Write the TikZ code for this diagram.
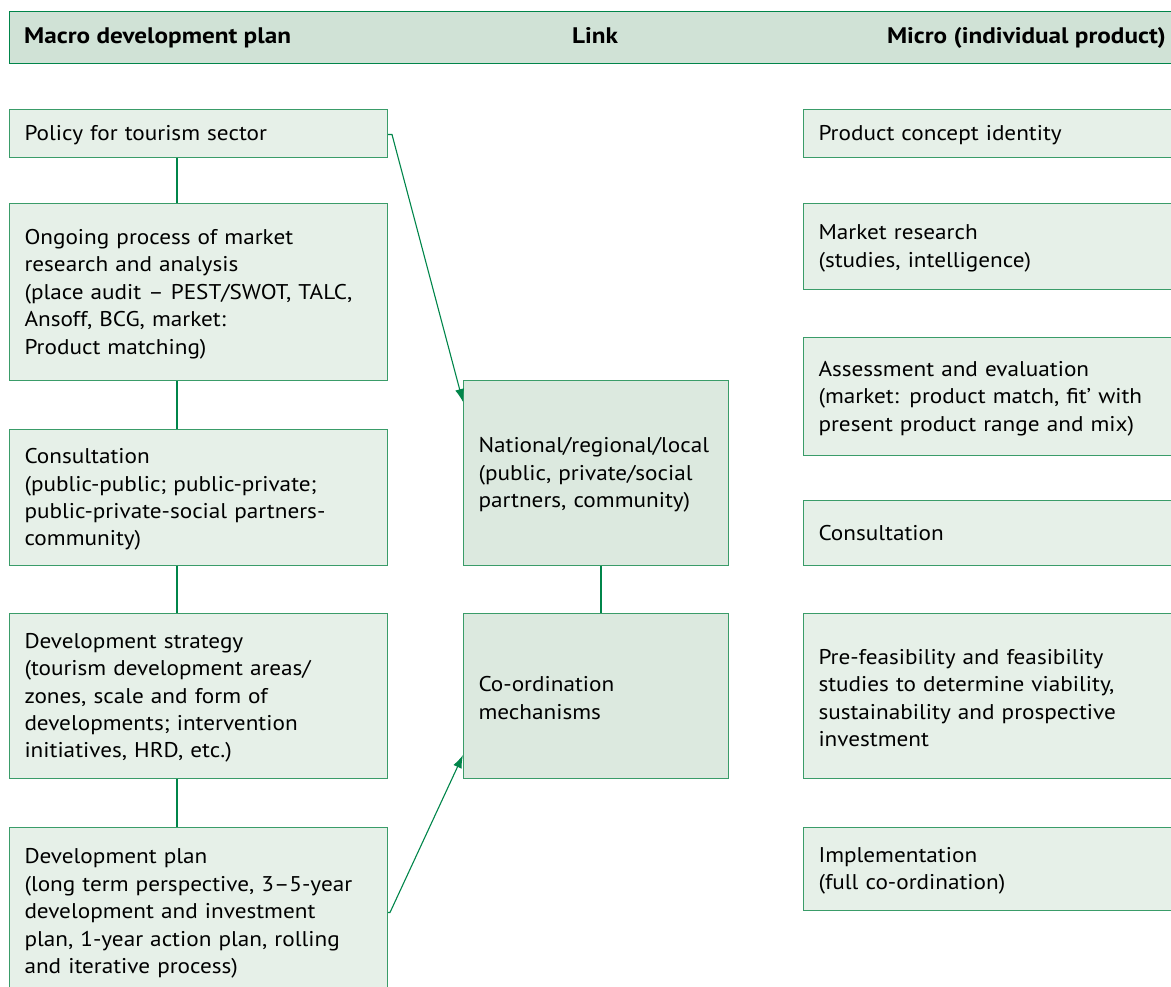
\documentclass[tikz,border=0pt]{standalone}
\usepackage{fontspec}
\setmainfont[FakeStretch=1.09]{PT Sans}
\newfontfamily\headfont[FakeStretch=1.12]{PT Sans}
\usetikzlibrary{arrows.meta,calc}
\definecolor{boxline}{HTML}{3A9C69}
\definecolor{conn}{HTML}{00854A}
\definecolor{lightfill}{HTML}{E6F0E8}
\definecolor{midfill}{HTML}{DCE9DF}
\definecolor{headfill}{HTML}{D0E2D6}
\tikzset{
  x=1pt, y=-1pt,
  basebox/.style={draw=boxline, line width=1pt, anchor=north west, inner xsep=15pt, inner ysep=0pt,
    align=left, font=\fontsize{21.3}{27.4}\selectfont, text=black,
    execute at end node={\par\vspace{-4pt}}},
  leftbox/.style={basebox, fill=lightfill, minimum width=378pt, text width=348pt},
  midbox/.style={basebox, fill=midfill, minimum width=265pt, text width=235pt},
  rightbox/.style={basebox, fill=lightfill, minimum width=372pt, text width=342pt},
  link/.style={draw=conn, line width=1.2pt},
  arr/.style={draw=conn, line width=1.1pt, -{Latex[length=13pt,width=9pt]}},
  headtext/.style={font=\headfont\fontsize{22.5}{26}\selectfont\bfseries, text=black, inner sep=0pt}
}
\begin{document}
\begin{tikzpicture}
\useasboundingbox (0,0) rectangle (1171,987);
\clip (0,0) rectangle (1171,987);
% header
\node[draw=conn, line width=1pt, fill=headfill, anchor=north west, minimum width=1170pt, minimum height=52pt, inner sep=0pt] (head) at (9,11) {};
\node[headtext, anchor=base west] (h1) at (24,44) {Macro development plan};
\node[headtext, anchor=base] (h2) at (595,44) {Link};
\node[headtext, anchor=base east] (h3) at (1166,44) {Micro (individual product)};
% left column
\node[leftbox, minimum height=48pt] (pol) at (9,109) {Policy for tourism sector};
\node[leftbox, minimum height=177pt] (ong) at (9,203) {Ongoing process of market\\research and analysis\\(place audit -- PEST/SWOT, TALC,\\Ansoff, BCG, market:\\Product matching)};
\node[leftbox, minimum height=136pt] (con) at (9,429) {Consultation\\(public-public; public-private;\\public-private-social partners-\\community)};
\node[leftbox, minimum height=165pt] (str) at (9,613) {Development strategy\\(tourism development areas/\\zones, scale and form of\\developments; intervention\\initiatives, HRD, etc.)};
\node[leftbox, minimum height=168pt] (plan) at (9,827) {Development plan\\(long term perspective, 3--5-year\\development and investment\\plan, 1-year action plan, rolling\\and iterative process)};
% middle column
\node[midbox, minimum height=185pt] (nat) at (463,380) {National/regional/local\\(public, private/social\\partners, community)};
\node[midbox, minimum height=165pt] (coo) at (463,613) {Co-ordination\\mechanisms};
% right column
\node[rightbox, minimum height=48pt] (r1) at (803,109) {Product concept identity};
\node[rightbox, minimum height=86pt] (r2) at (803,203) {Market research\\(studies, intelligence)};
\node[rightbox, minimum height=118pt] (r3) at (803,337) {Assessment and evaluation\\(market: product match, fit’ with\\present product range and mix)};
\node[rightbox, minimum height=65pt] (r4) at (803,500) {Consultation};
\node[rightbox, minimum height=165pt] (r5) at (803,613) {Pre-feasibility and feasibility\\studies to determine viability,\\sustainability and prospective\\investment};
\node[rightbox, minimum height=83pt] (r6) at (803,827) {Implementation\\(full co-ordination)};
% connectors
\draw[link] ([xshift=168pt]pol.south west) -- ([xshift=168pt]ong.north west);
\draw[link] ([xshift=168pt]ong.south west) -- ([xshift=168pt]con.north west);
\draw[link] ([xshift=168pt]con.south west) -- ([xshift=168pt]str.north west);
\draw[link] ([xshift=168pt]str.south west) -- ([xshift=168pt]plan.north west);
\draw[link] ([xshift=138pt]nat.south west) -- ([xshift=138pt]coo.north west);
\draw[arr] ([yshift=-1pt]pol.east) -- ++(4,0) -- ([yshift=-22pt]nat.north west);
\draw[arr] ([yshift=-1pt]plan.east) -- ++(2,0) -- ([yshift=24pt]coo.south west);
\end{tikzpicture}
\end{document}
